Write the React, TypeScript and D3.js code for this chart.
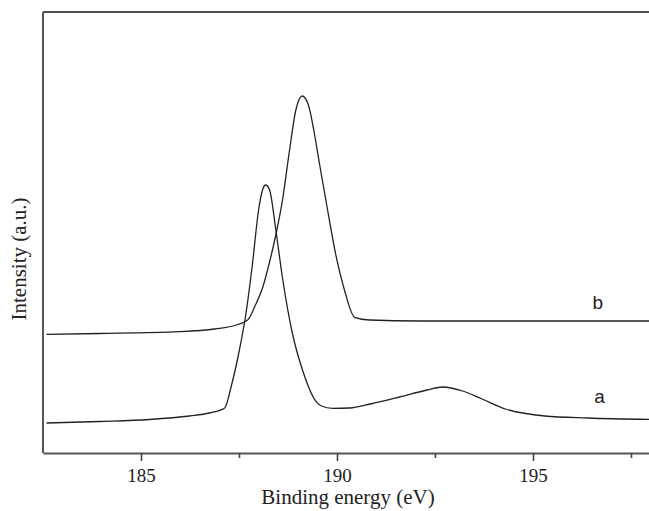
import React, { useEffect, useRef } from "react";
import * as d3 from "d3";

// binding energy (eV) and intensity (a.u.)
const energyA = [182.59, 183.94, 185.22, 186.24, 186.75, 187.13, 187.31, 187.51, 187.68, 187.84, 188.0, 188.1, 188.18, 188.28, 188.45, 188.61, 188.86, 189.12, 189.47, 189.6, 189.89, 190.32, 190.85, 191.6, 192.3, 192.7, 193.2, 193.7, 194.3, 195.3, 196.4, 198.0];
const intensityA = [30, 31.5, 33.5, 37, 40, 44.7, 68, 103, 140, 188, 243, 263, 268, 263, 220, 175, 120, 83, 51.3, 47, 44.7, 45, 49, 56, 63, 66, 62, 54, 44, 37, 35, 33.5];

const energyB = [182.59, 183.94, 185.98, 186.88, 187.43, 187.72, 187.92, 188.11, 188.28, 188.45, 188.61, 188.79, 188.95, 189.11, 189.27, 189.43, 189.55, 189.76, 189.98, 190.19, 190.45, 190.83, 192.1, 198.0];
const intensityB = [118.7, 119.5, 121.3, 124, 128, 133, 148, 166.3, 191, 220, 253, 303, 343, 357, 348, 318, 290, 243, 196.3, 163, 135.7, 133, 132, 132];

const majorTicks = [185, 190, 195];
const minorTicks = [187.5, 192.5, 197.5];
const seriesLabels = ["a", "b"];

const App = () => {
  const svgRef = useRef<SVGSVGElement>(null);

  useEffect(() => {
    const width = 649;
    const height = 511;
    const margin = { top: 12, left: 43, bottom: 58 };

    const svg = d3.select(svgRef.current);
    svg.selectAll("*").remove();
    svg.attr("width", width).attr("height", height);

    const x = d3.scaleLinear().domain([182.5, 198]).range([margin.left, 650.6]);
    const y = d3
      .scaleLinear()
      .domain([0, 441])
      .range([height - margin.bottom, margin.top]);

    const line = d3
      .line<[number, number]>()
      .x((d) => x(d[0]))
      .y((d) => y(d[1]))
      .curve(d3.curveMonotoneX);

    const seriesA = energyA.map((e, i) => [e, intensityA[i]] as [number, number]);
    const seriesB = energyB.map((e, i) => [e, intensityB[i]] as [number, number]);

    [seriesA, seriesB].forEach((s) => {
      svg
        .append("path")
        .datum(s)
        .attr("d", line)
        .attr("fill", "none")
        .attr("stroke", "#222")
        .attr("stroke-width", 1.3);
    });

    // frame: top line, left axis
    svg
      .append("line")
      .attr("x1", margin.left)
      .attr("x2", width)
      .attr("y1", margin.top)
      .attr("y2", margin.top)
      .attr("stroke", "#111")
      .attr("stroke-width", 1.6);

    svg
      .append("line")
      .attr("x1", margin.left)
      .attr("x2", margin.left)
      .attr("y1", margin.top)
      .attr("y2", height - margin.bottom)
      .attr("stroke", "#555")
      .attr("stroke-width", 2);

    const xAxis = svg
      .append("g")
      .attr("transform", `translate(0,${height - margin.bottom})`)
      .call(d3.axisBottom(x).tickValues(majorTicks).tickSize(8).tickPadding(8).tickSizeOuter(0));

    svg
      .append("g")
      .attr("transform", `translate(0,${height - margin.bottom})`)
      .call(d3.axisBottom(x).tickValues(minorTicks).tickSize(5).tickFormat(() => "").tickSizeOuter(0))
      .select(".domain")
      .remove();

    svg.selectAll(".domain").attr("stroke", "#555").attr("stroke-width", 2);
    svg.selectAll(".tick line").attr("stroke", "#444").attr("stroke-width", 1.6);
    xAxis
      .selectAll(".tick text")
      .attr("font-family", "Liberation Serif")
      .attr("font-size", 19)
      .attr("fill", "#222");

    svg
      .append("text")
      .attr("x", 348)
      .attr("y", 504)
      .attr("text-anchor", "middle")
      .attr("font-family", "Liberation Serif")
      .attr("font-size", 21)
      .attr("fill", "#222")
      .text("Binding energy (eV)");

    svg
      .append("text")
      .attr("transform", `translate(26,259) rotate(-90)`)
      .attr("text-anchor", "middle")
      .attr("font-family", "Liberation Serif")
      .attr("font-size", 21)
      .attr("fill", "#222")
      .text("Intensity (a.u.)");

    // curve labels
    const labelPos = [
      { e: 196.7, i: intensityA[intensityA.length - 1] + 17 },
      { e: 196.65, i: intensityB[intensityB.length - 1] + 12 },
    ];
    seriesLabels.forEach((lab, k) => {
      svg
        .append("text")
        .attr("x", x(labelPos[k].e))
        .attr("y", y(labelPos[k].i))
        .attr("text-anchor", "middle")
        .attr("font-family", "Liberation Sans")
        .attr("font-size", 19)
        .attr("fill", "#222")
        .text(lab);
    });
  }, []);

  return <svg ref={svgRef} style={{ position: "absolute", left: 0, top: 0 }}></svg>;
};

export default App;
